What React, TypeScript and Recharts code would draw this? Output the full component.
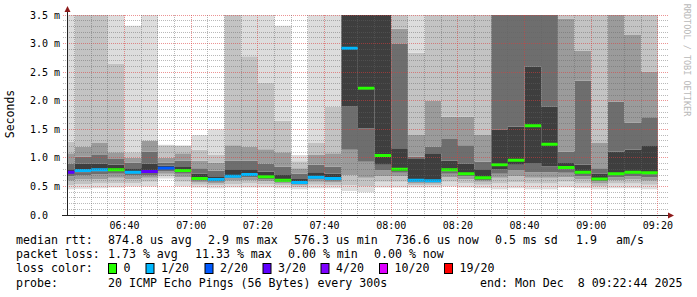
import React from "react";
import { ComposedChart, Area, XAxis, YAxis } from "recharts";

// end time of each 5 minute step
const binEnd = [
  "06:25", "06:30", "06:35", "06:40", "06:45", "06:50", "06:55", "07:00", "07:05",
  "07:10", "07:15", "07:20", "07:25", "07:30", "07:35", "07:40", "07:45", "07:50",
  "07:55", "08:00", "08:05", "08:10", "08:15", "08:20", "08:25", "08:30", "08:35",
  "08:40", "08:45", "08:50", "08:55", "09:00", "09:05", "09:10", "09:15", "09:20",
];

// median rtt in ms
const medianRtt = [
  0.75, 0.78, 0.79, 0.79, 0.75, 0.76, 0.82, 0.78, 0.64, 0.62, 0.68, 0.71,
  0.67, 0.61, 0.57, 0.66, 0.64, 2.92, 2.22, 1.04, 0.8, 0.61, 0.6, 0.79,
  0.72, 0.65, 0.88, 0.96, 1.56, 1.24, 0.83, 0.75, 0.63, 0.72, 0.75, 0.74,
];

// lost pings out of 20
const lostPings = [
  3, 1, 1, 0, 1, 3, 2, 0, 0, 1, 1, 1,
  0, 0, 1, 1, 1, 1, 0, 0, 0, 1, 1, 0,
  0, 0, 0, 0, 0, 0, 0, 0, 0, 0, 0, 0,
];

// smoke: sorted ping levels per step (ms), min .. median .. max
const pingLevels = [
  [0.45, 0.52, 0.6, 0.68, 0.72, 0.75, 0.8, 0.9, 1.08, 1.28, 3.8],
  [0.46, 0.54, 0.62, 0.7, 0.75, 0.78, 0.9, 1.02, 1.2, 3.7, 4.2],
  [0.47, 0.55, 0.63, 0.71, 0.76, 0.79, 0.9, 1.05, 1.26, 3.7, 4.2],
  [0.48, 0.56, 0.65, 0.72, 0.77, 0.79, 0.88, 0.98, 1.1, 2.65, 3.8],
  [0.5, 0.56, 0.63, 0.69, 0.73, 0.75, 0.82, 0.92, 1.0, 1.1, 3.31],
  [0.5, 0.58, 0.65, 0.7, 0.74, 0.76, 0.9, 1.11, 1.3, 1.31, 3.8],
  [0.64, 0.68, 0.72, 0.76, 0.79, 0.82, 0.86, 0.92, 1.0, 1.22, 1.23],
  [0.5, 0.58, 0.66, 0.72, 0.76, 0.78, 0.84, 0.95, 1.08, 1.21, 1.22],
  [0.48, 0.53, 0.57, 0.6, 0.62, 0.64, 0.72, 0.82, 0.95, 1.14, 1.4],
  [0.47, 0.52, 0.55, 0.58, 0.6, 0.62, 0.68, 0.78, 0.92, 1.05, 1.5],
  [0.48, 0.54, 0.6, 0.64, 0.66, 0.68, 0.8, 0.95, 1.22, 3.7, 4.2],
  [0.48, 0.55, 0.61, 0.66, 0.69, 0.71, 0.8, 0.95, 1.2, 2.78, 3.8],
  [0.48, 0.54, 0.59, 0.63, 0.65, 0.67, 0.76, 0.9, 1.15, 2.32, 3.8],
  [0.47, 0.52, 0.55, 0.58, 0.6, 0.61, 0.7, 0.85, 1.1, 1.65, 3.31],
  [0.45, 0.49, 0.52, 0.54, 0.56, 0.57, 0.63, 0.72, 0.82, 0.94, 1.05],
  [0.47, 0.53, 0.58, 0.62, 0.64, 0.66, 0.75, 0.88, 1.05, 1.26, 3.8],
  [0.47, 0.52, 0.57, 0.6, 0.62, 0.64, 0.72, 0.85, 1.08, 1.9, 3.8],
  [0.42, 0.52, 0.7, 1.14, 1.9, 2.92, 3.7, 4, 4.5, 5, 6],
  [0.4, 0.5, 0.65, 0.93, 1.52, 2.22, 3.7, 4, 4.5, 5, 6],
  [0.48, 0.58, 0.68, 0.78, 0.88, 1.04, 3.7, 4, 4.5, 5, 6],
  [0.48, 0.58, 0.68, 0.74, 0.77, 0.8, 1.17, 3.0, 3.26, 3.7, 4.2],
  [0.48, 0.52, 0.55, 0.58, 0.6, 0.61, 0.98, 1.02, 1.4, 2.84, 3.7],
  [0.48, 0.52, 0.55, 0.57, 0.59, 0.6, 1.08, 1.2, 2.0, 3.7, 4.2],
  [0.5, 0.58, 0.66, 0.72, 0.76, 0.79, 0.95, 1.33, 1.72, 3.7, 4.2],
  [0.48, 0.56, 0.63, 0.68, 0.7, 0.72, 0.9, 1.22, 1.72, 3.7, 4.2],
  [0.47, 0.53, 0.58, 0.61, 0.63, 0.65, 0.8, 0.93, 1.4, 3.7, 4.2],
  [0.45, 0.55, 0.65, 0.72, 0.8, 0.88, 1.49, 3.7, 4, 4.5, 5],
  [0.47, 0.57, 0.68, 0.78, 0.88, 0.96, 1.55, 3.7, 4, 4.5, 5],
  [0.45, 0.55, 0.65, 0.75, 0.91, 1.56, 2.6, 3.7, 4, 4.5, 5],
  [0.45, 0.55, 0.65, 0.75, 0.85, 1.24, 1.9, 3.7, 4, 4.5, 5],
  [0.48, 0.58, 0.66, 0.74, 0.8, 0.83, 0.91, 1.11, 3.44, 3.8, 4.2],
  [0.47, 0.55, 0.62, 0.68, 0.72, 0.75, 0.88, 2.35, 2.88, 3.8, 4.2],
  [0.45, 0.5, 0.55, 0.59, 0.61, 0.63, 0.72, 0.82, 1.26, 3.8, 4.2],
  [0.47, 0.55, 0.61, 0.66, 0.7, 0.72, 1.11, 1.98, 3.7, 4, 4.5],
  [0.47, 0.55, 0.62, 0.68, 0.72, 0.75, 1.14, 1.62, 3.15, 3.8, 4.2],
  [0.45, 0.53, 0.6, 0.66, 0.71, 0.74, 1.22, 1.71, 2.51, 3.8, 4.2],
];

const xTickLabels = ["06:40", "07:00", "07:20", "07:40", "08:00", "08:20", "08:40", "09:00", "09:20"];
const yTickValues = [0, 0.5, 1, 1.5, 2, 2.5, 3, 3.5];

const lossSteps = [0, 1, 2, 3, 4, 10, 19];
const lossColors: Record<number, string> = {
  0: "#26ff00",
  1: "#00b8ff",
  2: "#0059ff",
  3: "#5e00ff",
  4: "#7e00ff",
  10: "#dd00ff",
  19: "#ff0000",
};

const statsRtt = ["874.8 us avg", "2.9 ms max", "576.3 us min", "736.6 us now", "0.5 ms sd", "1.9", "am/s"];
const statsLoss = ["1.73 % avg", "11.33 % max", "0.00 % min", "0.00 % now"];

// ---------------------------------------------------------------

const MONO = "'DejaVu Sans Mono', monospace";
const smokeGray = [221, 195, 155, 110, 62, 62, 110, 155, 195, 221];
const MED_HALF = 0.026; // ~1.5px
const GRID = "rgba(100,100,100,0.45)";
const MGRID = "rgba(220,60,60,0.55)";
const W = 697;
const H = 297;
const MARGIN = { top: 15, right: 30, left: 0, bottom: 62 };
// plot box that the margins above produce (rrdtool's 600x200 canvas)
const PL = 67;
const PT = 15;
const PW = 600;
const PH = 200;

const toMin = (s: string) => {
  const [h, m] = s.split(":").map(Number);
  return h * 60 + m;
};
const fmtMin = (v: number) => {
  const h = Math.floor(v / 60);
  const m = Math.round(v - h * 60);
  return `${String(h).padStart(2, "0")}:${String(m).padStart(2, "0")}`;
};

const startMin = 6 * 60 + 22 + 44 / 60;
const endMin = startMin + 180;

const rows: any[] = [];
binEnd.forEach((label, i) => {
  const t1 = toMin(label);
  const lv = pingLevels[i];
  const rec: any = {};
  for (let j = 0; j < 10; j++) rec["s" + j] = [lv[j], lv[j + 1]];
  rec["m" + lostPings[i]] = [medianRtt[i] - MED_HALF, medianRtt[i] + MED_HALF];
  rows.push({ t: t1 - 5, ...rec }, { t: t1, ...rec });
});

const usedLoss = lossSteps.filter((l) => lostPings.includes(l));

// grid: every 0.1 ms / 5 min, major every 0.5 ms / 20 min
const hGrid: number[] = [];
for (let k = 1; k <= 35; k++) hGrid.push(k);
const vGrid: number[] = [];
for (let m = 385; m <= 560; m += 5) vGrid.push(m);
const snap = (v: number) => Math.floor(v) + 0.5;
const gx = (m: number) => snap(PL + ((m - startMin) / (endMin - startMin)) * PW);
const gy = (v: number) => snap(PT + PH - (v / 3.5) * PH);

const YTick = ({ y, payload }: any) => (
  <text x={30} y={y + 3.5} fontSize={10} fontFamily={MONO} fill="#000">
    {payload.value === 0 ? "0.0" : payload.value.toFixed(1) + " m"}
  </text>
);

const XTick = ({ x, payload }: any) => (
  <text x={x} y={228.5} textAnchor="middle" fontSize={10} fontFamily={MONO} fill="#000">
    {fmtMin(payload.value)}
  </text>
);

const rttX = [108, 208, 294, 395, 495, 576, 616];
const lossX = [108, 195, 288, 374];
const boxX = [108.5, 146, 205, 263, 321, 379.5, 444.5];

export default function App() {
  const txt = { fontFamily: MONO, fontSize: 11.6, fill: "#000" } as const;
  return (
    <div style={{ position: "absolute", left: 0, top: 0, width: W, height: H, background: "#fff" }}>
      <ComposedChart width={W} height={H} data={rows} margin={MARGIN}>
        <XAxis
          dataKey="t"
          type="number"
          domain={[startMin, endMin]}
          allowDataOverflow
          ticks={xTickLabels.map(toMin)}
          tick={<XTick />}
          tickLine={false}
          axisLine={false}
          height={20}
        />
        <YAxis
          type="number"
          domain={[0, 3.5]}
          allowDataOverflow
          ticks={yTickValues}
          tick={<YTick />}
          tickLine={false}
          axisLine={false}
          width={67}
        />
        {smokeGray.map((g, j) => (
          <Area
            key={"s" + j}
            dataKey={"s" + j}
            type="linear"
            stroke="none"
            fill={`rgb(${g},${g},${g})`}
            fillOpacity={1}
            dot={false}
            activeDot={false}
            isAnimationActive={false}
          />
        ))}
        {usedLoss.map((l) => (
          <Area
            key={"m" + l}
            dataKey={"m" + l}
            type="linear"
            stroke="none"
            fill={lossColors[l]}
            fillOpacity={1}
            dot={false}
            activeDot={false}
            isAnimationActive={false}
          />
        ))}
      </ComposedChart>

      <svg width={W} height={H} style={{ position: "absolute", left: 0, top: 0, pointerEvents: "none" }}>
        {/* dotted grid over the smoke, like rrdtool */}
        <g shapeRendering="crispEdges" strokeWidth={1} strokeDasharray="1 1">
          {hGrid.map((k) => (
            <line key={"h" + k} x1={PL - 4} x2={PL + PW + 1} y1={gy(k / 10)} y2={gy(k / 10)} stroke={k % 5 === 0 ? MGRID : GRID} />
          ))}
          {vGrid.map((m) => (
            <line key={"v" + m} x1={gx(m)} x2={gx(m)} y1={PT} y2={PT + PH + 3} stroke={m % 20 === 0 ? MGRID : GRID} />
          ))}
        </g>
        <line x1={67.5} y1={216} x2={67.5} y2={11} stroke="#222" strokeWidth={1} />
        <polygon points="64.5,12 70.5,12 67.5,6" fill="#8e1b1b" />
        <line x1={62} y1={215.5} x2={669} y2={215.5} stroke="#222" strokeWidth={1} />
        <polygon points="668,212.5 668,218.5 674,215.5" fill="#8e1b1b" />
        <text transform="translate(14,114) rotate(-90)" textAnchor="middle" fontFamily={MONO} fontSize={11.5} fill="#000">
          Seconds
        </text>
        <text transform="translate(684,60) rotate(90)" textAnchor="middle" fontFamily={MONO} fontSize={8.5} fill="#b8b8b8">
          RRDTOOL / TOBI OETIKER
        </text>

        <text x={16} y={244} {...txt}>median rtt:</text>
        {statsRtt.map((s, i) => (
          <text key={s} x={rttX[i]} y={244} {...txt}>{s}</text>
        ))}
        <text x={16} y={258} {...txt}>packet loss:</text>
        {statsLoss.map((s, i) => (
          <text key={s + i} x={lossX[i]} y={258} {...txt}>{s}</text>
        ))}
        <text x={16} y={272} {...txt}>loss color:</text>
        {lossSteps.map((l, i) => (
          <g key={"lg" + l}>
            <rect x={boxX[i]} y={263.5} width={8} height={10} fill={lossColors[l]} stroke="#000" strokeWidth={1} />
            <text x={boxX[i] + 15} y={272} {...txt}>{l === 0 ? "0" : `${l}/20`}</text>
          </g>
        ))}
        <text x={16} y={287} {...txt}>probe:</text>
        <text x={108} y={287} {...txt}>20 ICMP Echo Pings (56 Bytes) every 300s</text>
        <text x={480} y={287} {...txt} style={{ whiteSpace: "pre" }}>end: Mon Dec  8 09:22:44 2025</text>
      </svg>
    </div>
  );
}
